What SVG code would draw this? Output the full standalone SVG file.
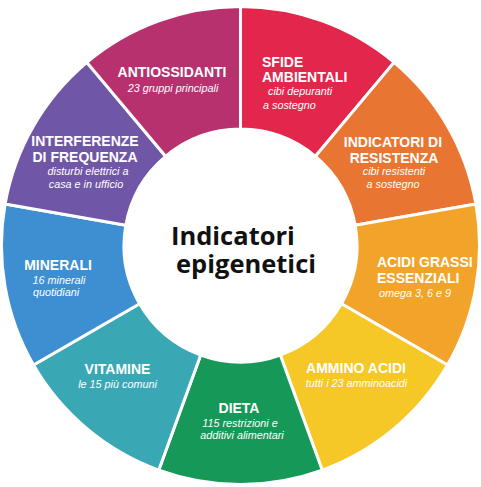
<svg xmlns="http://www.w3.org/2000/svg" width="481" height="487" viewBox="0 0 481 487">
<style>
.seg{stroke:#fff;stroke-width:3;stroke-linejoin:miter}
.t{font-family:"Liberation Sans",Arial,sans-serif;font-weight:bold;font-size:14px;fill:#fff}
.s{font-family:"Liberation Sans",Arial,sans-serif;font-style:italic;font-size:10.8px;fill:#fff}
.c{font-family:"Open Sans","Noto Sans",sans-serif;font-weight:700;font-size:25.5px;fill:#111}
.m{text-anchor:middle}
</style>
<rect width="481" height="487" fill="#fff"/>
<g id="sfide">
<path class="seg" fill="#E2264C" d="M240.5,6.5 A239,239 0 0 1 394.1,62.4 L315.4,156.3 A116.5,116.5 0 0 0 240.5,129 Z"/>
<text class="t" x="262" y="67">SFIDE</text>
<text class="t" x="262" y="82">AMBIENTALI</text>
<text class="s" x="268" y="95">cibi depuranti</text>
<text class="s" x="263" y="109">a sostegno</text>
</g>
<g id="indicatori">
<path class="seg" fill="#E87632" d="M394.1,62.4 A239,239 0 0 1 475.9,204 L355.2,225.3 A116.5,116.5 0 0 0 315.4,156.3 Z"/>
<text class="t m" x="393" y="147">INDICATORI DI</text>
<text class="t m" x="394" y="163">RESISTENZA</text>
<text class="s m" x="394" y="175">cibi resistenti</text>
<text class="s m" x="393" y="188">a sostegno</text>
</g>
<g id="acidi-grassi">
<path class="seg" fill="#F2A42A" d="M475.9,204 A239,239 0 0 1 447.5,365 L341.4,303.75 A116.5,116.5 0 0 0 355.2,225.3 Z"/>
<text class="t" x="377" y="267">ACIDI GRASSI</text>
<text class="t" x="377" y="283">ESSENZIALI</text>
<text class="s" x="379" y="297">omega 3, 6 e 9</text>
</g>
<g id="ammino-acidi">
<path class="seg" fill="#F5C828" d="M447.5,365 A239,239 0 0 1 322.2,470.1 L280.3,355 A116.5,116.5 0 0 0 341.4,303.75 Z"/>
<text class="t m" x="356" y="373">AMMINO ACIDI</text>
<text class="s m" x="356.5" y="387">tutti i 23 amminoacidi</text>
</g>
<g id="dieta">
<path class="seg" fill="#169858" d="M322.2,470.1 A239,239 0 0 1 158.8,470.1 L200.7,355 A116.5,116.5 0 0 0 280.3,355 Z"/>
<text class="t m" x="239" y="413">DIETA</text>
<text class="s m" x="240" y="427">115 restrizioni e</text>
<text class="s m" x="242" y="439">additivi alimentari</text>
</g>
<g id="vitamine">
<path class="seg" fill="#3AA8B4" d="M158.8,470.1 A239,239 0 0 1 33.5,365 L139.6,303.75 A116.5,116.5 0 0 0 200.7,355 Z"/>
<text class="t m" x="117.5" y="374">VITAMINE</text>
<text class="s m" x="117.5" y="388">le 15 più comuni</text>
</g>
<g id="minerali">
<path class="seg" fill="#3E8ED2" d="M33.5,365 A239,239 0 0 1 5.1,204 L125.8,225.3 A116.5,116.5 0 0 0 139.6,303.75 Z"/>
<text class="t m" x="58" y="270">MINERALI</text>
<text class="s m" x="59" y="284">16 minerali</text>
<text class="s m" x="56" y="296">quotidiani</text>
</g>
<g id="interferenze">
<path class="seg" fill="#7056A6" d="M5.1,204 A239,239 0 0 1 86.9,62.4 L165.6,156.3 A116.5,116.5 0 0 0 125.8,225.3 Z"/>
<text class="t m" x="85" y="146">INTERFERENZE</text>
<text class="t m" x="85" y="162">DI FREQUENZA</text>
<text class="s m" x="88" y="175">disturbi elettrici a</text>
<text class="s m" x="86" y="188">casa e in ufficio</text>
</g>
<g id="antiossidanti">
<path class="seg" fill="#B7316F" d="M86.9,62.4 A239,239 0 0 1 240.5,6.5 L240.5,129 A116.5,116.5 0 0 0 165.6,156.3 Z"/>
<text class="t m" x="172" y="77">ANTIOSSIDANTI</text>
<text class="s m" x="173" y="92">23 gruppi principali</text>
</g>
<g id="centro">
<text class="c" x="171" y="245">Indicatori</text>
<text class="c" x="176" y="273">epigenetici</text>
</g>
</svg>
